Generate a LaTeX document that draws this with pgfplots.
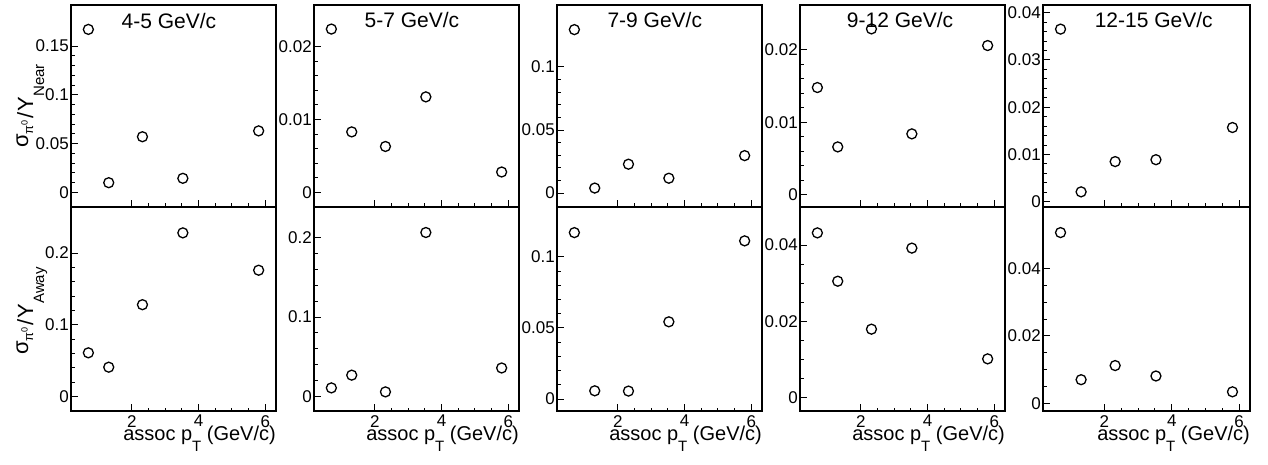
\documentclass[border=0pt]{standalone}
\usepackage{fontspec}
\setmainfont{Liberation Sans}
\usepackage{pgfplots}
\pgfplotsset{compat=1.18}
\newcommand{\lsub}[1]{\raisebox{-11pt}{\fontsize{15}{15}\selectfont #1}}
\newcommand{\ylab}[1]{{\fontsize{22}{22}\selectfont\raisebox{5pt}{σ}\raisebox{0pt}{\fontsize{13}{13}\selectfont π}\raisebox{5.5pt}{\fontsize{9}{9}\selectfont 0}\kern2pt/\kern1pt Y\raisebox{-11pt}{\fontsize{15}{15}\selectfont #1}}}
\pgfplotsset{
  panel/.style={
    scale only axis, width=205pt,
    xmin=0.18, xmax=6.32, xtick={2,4,6}, minor x tick num=3,
    tick align=inside, xtick pos=left, ytick pos=left,
    major tick length=7pt, minor tick length=3.5pt,
    every tick/.style={black, line width=0.9pt},
    axis line style={line width=1.6pt},
    scaled y ticks=false, scaled x ticks=false,
    /pgf/number format/assume math mode=true,
    yticklabel style={/pgf/number format/fixed, /pgf/number format/precision=3,
      font=\fontsize{17}{17}\selectfont, inner sep=0pt, xshift=-2pt},
    xticklabel style={font=\fontsize{17}{17}\selectfont, inner sep=0pt, yshift=-4pt},
    label style={font=\fontsize{20}{20}\selectfont, inner sep=0pt},
  },
  pt/.style={only marks, mark=o, mark size=5pt, black, mark options={line width=1.3pt, fill=none}},
  toppanel/.style={panel, height=202pt, xticklabels={}, minor y tick num=4},
  botpanel/.style={panel, height=204pt,
    xlabel={assoc p\lsub{T} (GeV/c)},
    xlabel style={at={(axis description cs:1,0)}, anchor=base east, yshift=-29pt}},
}
\newcommand{\ttl}[2]{\node[anchor=base, font=\fontsize{21}{21}\selectfont] at (rel axis cs:#1,1) [yshift=-23pt] {#2};}
\begin{document}
\begin{tikzpicture}
\useasboundingbox (0,0) rectangle (1268pt,464pt);
% ---------- panel 1 ----------
\begin{axis}[toppanel, at={(71pt,257pt)}, anchor=south west,
  ymin=-0.015, ymax=0.192, ytick={0,0.05,0.1,0.15},
  ylabel={\ylab{Near}},
  ylabel style={at={(axis description cs:-0.185,0.5)}, anchor=base}]
\addplot[pt] coordinates {(0.7,0.167) (1.31,0.0099) (2.32,0.057) (3.53,0.0144) (5.8,0.063)};
\ttl{0.478}{4-5 GeV/c}
\end{axis}
\begin{axis}[botpanel, at={(71pt,53pt)}, anchor=south west,
  ymin=-0.020, ymax=0.264, ytick={0,0.1,0.2}, minor y tick num=4,
  ylabel={\ylab{Away}},
  ylabel style={at={(axis description cs:-0.185,0.49)}, anchor=base}]
\addplot[pt] coordinates {(0.7,0.061) (1.31,0.041) (2.32,0.128) (3.53,0.228) (5.8,0.176)};
\end{axis}
% ---------- panel 2 ----------
\begin{axis}[toppanel, at={(314pt,257pt)}, anchor=south west,
  ymin=-0.002, ymax=0.0257, ytick={0,0.01,0.02}]
\addplot[pt] coordinates {(0.7,0.0224) (1.31,0.0083) (2.32,0.0063) (3.53,0.0131) (5.8,0.0028)};
\ttl{0.478}{5-7 GeV/c}
\end{axis}
\begin{axis}[botpanel, at={(314pt,53pt)}, anchor=south west,
  ymin=-0.018, ymax=0.238, ytick={0,0.1,0.2}, minor y tick num=4]
\addplot[pt] coordinates {(0.7,0.011) (1.31,0.027) (2.32,0.006) (3.53,0.206) (5.8,0.036)};
\end{axis}
% ---------- panel 3 ----------
\begin{axis}[toppanel, at={(557pt,257pt)}, anchor=south west,
  ymin=-0.011, ymax=0.149, ytick={0,0.05,0.1}]
\addplot[pt] coordinates {(0.7,0.1295) (1.31,0.004) (2.32,0.0229) (3.53,0.0118) (5.8,0.0297)};
\ttl{0.477}{7-9 GeV/c}
\end{axis}
\begin{axis}[botpanel, at={(557pt,53pt)}, anchor=south west,
  ymin=-0.0084, ymax=0.135, ytick={0,0.05,0.1}, minor y tick num=4]
\addplot[pt] coordinates {(0.7,0.117) (1.31,0.0058) (2.32,0.0056) (3.53,0.0543) (5.8,0.1112)};
\end{axis}
% ---------- panel 4 ----------
\begin{axis}[toppanel, at={(800pt,257pt)}, anchor=south west,
  ymin=-0.0017, ymax=0.0262, ytick={0,0.01,0.02}]
\addplot[pt] coordinates {(0.7,0.0148) (1.31,0.0066) (2.32,0.0229) (3.53,0.0084) (5.8,0.0206)};
\ttl{0.488}{9-12 GeV/c}
\end{axis}
\begin{axis}[botpanel, at={(800pt,53pt)}, anchor=south west,
  ymin=-0.0036, ymax=0.050, ytick={0,0.02,0.04}, minor y tick num=3]
\addplot[pt] coordinates {(0.7,0.0432) (1.31,0.0305) (2.32,0.0179) (3.53,0.0392) (5.8,0.0101)};
\end{axis}
% ---------- panel 5 ----------
\begin{axis}[toppanel, width=207pt, at={(1043pt,257pt)}, anchor=south west,
  ymin=-0.0011, ymax=0.0416, ytick={0,0.01,0.02,0.03,0.04}]
\addplot[pt] coordinates {(0.7,0.0365) (1.31,0.0021) (2.32,0.0085) (3.53,0.0089) (5.8,0.0157)};
\ttl{0.535}{12-15 GeV/c}
\end{axis}
\begin{axis}[botpanel, width=207pt, at={(1043pt,53pt)}, anchor=south west,
  ymin=-0.0023, ymax=0.0583, ytick={0,0.02,0.04}, minor y tick num=3]
\addplot[pt] coordinates {(0.7,0.0507) (1.31,0.0070) (2.32,0.0112) (3.53,0.0081) (5.8,0.0034)};
\end{axis}
\end{tikzpicture}
\end{document}
